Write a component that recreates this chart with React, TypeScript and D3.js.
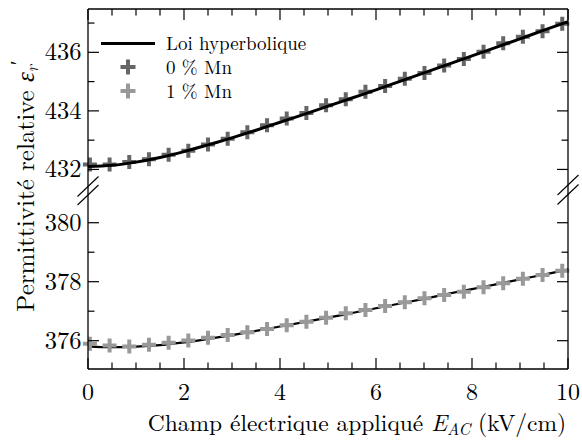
import React from 'react';
import * as d3 from 'd3';

// Measured points (applied field in kV/cm)
const fieldKV = [0.04, 0.45, 0.86, 1.27, 1.68, 2.09, 2.5, 2.91, 3.32, 3.73, 4.14, 4.55, 4.96, 5.37, 5.78, 6.19, 6.6, 7.01, 7.42, 7.83, 8.24, 8.65, 9.06, 9.47, 9.88];
const eps0Mn = [432.17, 432.17, 432.25, 432.35, 432.5, 432.64, 432.85, 433.05, 433.27, 433.51, 433.74, 433.93, 434.19, 434.4, 434.65, 434.85, 435.1, 435.29, 435.55, 435.77, 436.02, 436.31, 436.53, 436.72, 436.98];
const eps1Mn = [375.9, 375.84, 375.8, 375.86, 375.93, 376.01, 376.1, 376.19, 376.29, 376.4, 376.52, 376.64, 376.78, 376.93, 377.04, 377.18, 377.3, 377.44, 377.55, 377.66, 377.81, 377.95, 378.1, 378.23, 378.37];

// Hyperbolic law fits
const fitField = [0, 0.5, 1, 1.5, 2, 2.5, 3, 3.5, 4, 4.5, 5, 5.5, 6, 6.5, 7, 7.5, 8, 8.5, 9, 9.5, 10];
const fit0Mn = [432.1, 432.14, 432.25, 432.41, 432.61, 432.84, 433.08, 433.34, 433.61, 433.88, 434.16, 434.44, 434.72, 435.01, 435.3, 435.59, 435.88, 436.17, 436.46, 436.76, 437.05];
const fit1Mn = [375.81, 375.78, 375.8, 375.85, 375.94, 376.06, 376.19, 376.33, 376.48, 376.63, 376.78, 376.94, 377.1, 377.26, 377.42, 377.59, 377.75, 377.91, 378.08, 378.24, 378.41];

const xTicks = [0, 2, 4, 6, 8, 10];
const yTicksTop = [432, 434, 436];
const yTicksBottom = [376, 378, 380];
const legendLabels = ['Loi hyperbolique', '0 % Mn', '1 % Mn'];

const W = 582;
const H = 446;
const L = 88;
const R = 568;
const T = 9;
const B = 369;
const TOP_END = 187;
const BOT_START = 195;
const FONT = "'Latin Modern Roman'";
const GREEK = "'Liberation Serif'";
const C0 = '#666666';
const C1 = '#999999';

const x = d3.scaleLinear().domain([0, 10]).range([L, R]);
const yTop = d3.scaleLinear().domain([431.4, 437.48]).range([TOP_END, T]);
const yBot = d3.scaleLinear().domain([375.04, 380.94]).range([B, BOT_START]);

const MAJ = 11;
const MIN = 6.5;

function Cross({ cx, cy, color, s = 7 }: { cx: number; cy: number; color: string; s?: number }) {
  return (
    <path
      d={`M${cx - s},${cy}H${cx + s}M${cx},${cy - s}V${cy + s}`}
      stroke={color}
      strokeWidth={4}
      fill="none"
    />
  );
}

const txt = { fontFamily: FONT };

export default function App() {
  const lineTop = d3
    .line<number>()
    .x((_, i) => x(fitField[i]))
    .y((d) => yTop(d))
    .curve(d3.curveMonotoneX);
  const lineBot = d3
    .line<number>()
    .x((_, i) => x(fitField[i]))
    .y((d) => yBot(d))
    .curve(d3.curveMonotoneX);

  const xMinor = x.ticks(20).filter((t) => !xTicks.includes(t));
  const yMinorTop = d3.range(432, 438).filter((t) => !yTicksTop.includes(t));
  const yMinorBot = d3.range(376, 381).filter((t) => !yTicksBottom.includes(t));

  const yTickMarks = (scale: d3.ScaleLinear<number, number>, major: number[], minor: number[], key: string) => (
    <g key={key}>
      {major.map((t) => (
        <g key={'M' + t}>
          <line x1={L} x2={L + MAJ} y1={scale(t)} y2={scale(t)} stroke="black" strokeWidth={1.2} />
          <line x1={R} x2={R - MAJ} y1={scale(t)} y2={scale(t)} stroke="black" strokeWidth={1.2} />
          <text x={L - 6.5} y={scale(t) + 8} textAnchor="end" fontSize={24.5} style={txt}>
            {t}
          </text>
        </g>
      ))}
      {minor.map((t) => (
        <g key={'m' + t}>
          <line x1={L} x2={L + MIN} y1={scale(t)} y2={scale(t)} stroke="black" strokeWidth={1.2} />
          <line x1={R} x2={R - MIN} y1={scale(t)} y2={scale(t)} stroke="black" strokeWidth={1.2} />
        </g>
      ))}
    </g>
  );

  const breakMark = (cx: number, cy: number, k: string) => (
    <line key={k} x1={cx - 10.5} y1={cy + 10} x2={cx + 10.5} y2={cy - 10} stroke="black" strokeWidth={1.1} />
  );

  return (
    <svg width={W} height={H} style={{ position: 'absolute', left: 0, top: 0, background: 'white' }}>
      <defs>
        <clipPath id="clipTop">
          <rect x={L} y={T} width={R - L} height={TOP_END - T} />
        </clipPath>
        <clipPath id="clipBot">
          <rect x={L} y={BOT_START} width={R - L} height={B - BOT_START} />
        </clipPath>
      </defs>

      {/* data 0 % Mn */}
      {fieldKV.map((f, i) => (
        <Cross key={'a' + i} cx={x(f)} cy={yTop(eps0Mn[i])} color={C0} />
      ))}
      <path d={lineTop(fit0Mn) || ''} fill="none" stroke="black" strokeWidth={3} clipPath="url(#clipTop)" />
      <path d={lineBot(fit1Mn) || ''} fill="none" stroke="black" strokeWidth={2.2} clipPath="url(#clipBot)" />
      {fieldKV.map((f, i) => (
        <Cross key={'b' + i} cx={x(f)} cy={yBot(eps1Mn[i])} color={C1} />
      ))}

      {/* spines */}
      <line x1={L} x2={L} y1={T} y2={B} stroke="black" strokeWidth={1.3} />
      <line x1={R} x2={R} y1={T} y2={B} stroke="black" strokeWidth={1.3} />
      <line x1={L} x2={R} y1={T} y2={T} stroke="black" strokeWidth={1.3} />
      <line x1={L} x2={R} y1={B} y2={B} stroke="black" strokeWidth={1.3} />

      {/* x ticks */}
      {xTicks.map((t) => (
        <g key={'x' + t}>
          <line x1={x(t)} x2={x(t)} y1={T} y2={T + MAJ} stroke="black" strokeWidth={1.2} />
          <line x1={x(t)} x2={x(t)} y1={B} y2={B - MAJ} stroke="black" strokeWidth={1.2} />
          <text x={x(t)} y={400} textAnchor="middle" fontSize={24} style={txt}>
            {t}
          </text>
        </g>
      ))}
      {xMinor.map((t) => (
        <g key={'xm' + t}>
          <line x1={x(t)} x2={x(t)} y1={T} y2={T + MIN} stroke="black" strokeWidth={1.2} />
          <line x1={x(t)} x2={x(t)} y1={B} y2={B - MIN} stroke="black" strokeWidth={1.2} />
        </g>
      ))}

      {yTickMarks(yTop, yTicksTop, yMinorTop, 'top')}
      {yTickMarks(yBot, yTicksBottom, yMinorBot, 'bot')}

      {/* break marks */}
      {breakMark(L, 186.5, 'b1')}
      {breakMark(L, 195, 'b2')}
      {breakMark(R, 185, 'b3')}
      {breakMark(R, 194.5, 'b4')}

      {/* legend */}
      <line x1={101} x2={155} y1={43.5} y2={43.5} stroke="black" strokeWidth={3} />
      <text x={166} y={50} fontSize={19} style={txt}>
        {legendLabels[0]}
      </text>
      <Cross cx={128} cy={67} color={C0} s={7.5} />
      <text x={166} y={73.5} fontSize={19} style={txt}>
        {legendLabels[1]}
      </text>
      <Cross cx={128} cy={91} color={C1} s={7.5} />
      <text x={166} y={97.5} fontSize={19} style={txt}>
        {legendLabels[2]}
      </text>

      {/* axis labels */}
      <text x={357} y={431} textAnchor="middle" fontSize={23.5} style={txt}>
        Champ électrique appliqué <tspan fontStyle="italic">E</tspan>
        <tspan fontStyle="italic" fontSize={16.5} dy={4}>
          AC
        </tspan>
        <tspan dy={-4}> (kV/cm)</tspan>
      </text>
      <text transform="translate(34,186) rotate(-90)" textAnchor="middle" fontSize={25} style={txt}>
        Permittivité relative{' '}
        <tspan fontStyle="italic" style={{ fontFamily: GREEK }}>
          ε
        </tspan>
        <tspan fontStyle="italic" fontSize={17} dy={4}>
          r
        </tspan>
        <tspan fontSize={21} dy={-13.5}>
          ′
        </tspan>
      </text>
    </svg>
  );
}
